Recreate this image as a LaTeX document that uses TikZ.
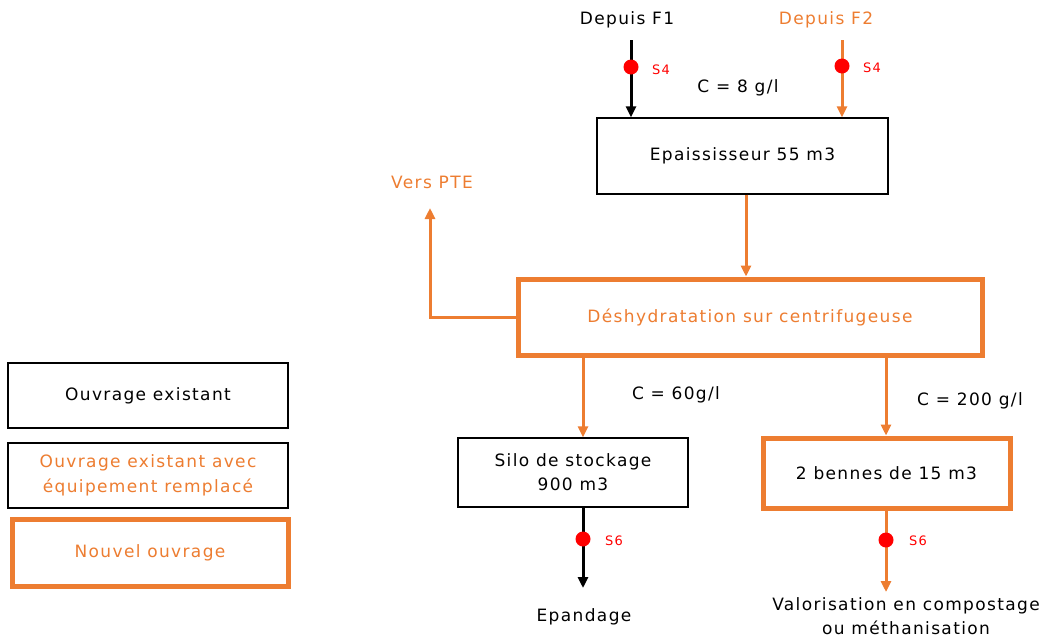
\documentclass[tikz,border=0pt]{standalone}
\usepackage{fontspec}
\setmainfont{DejaVu Sans}[LetterSpace=8]
\usetikzlibrary{arrows.meta}
\definecolor{org}{RGB}{237,125,49}
\definecolor{rd}{RGB}{255,0,0}
\tikzset{
  every node/.style={font=\fontsize{17}{25}\selectfont, inner sep=0pt},
  oldbox/.style={draw=black, line width=1.3pt, fill=white},
  newbox/.style={draw=org, line width=5pt, fill=white},
  barrow/.style={draw=black, line width=3pt, -{Triangle[width=10pt,length=11pt]}},
  oarrow/.style={draw=org, line width=3pt, -{Triangle[width=10pt,length=11pt]}},
  dot/.style={circle, fill=rd, minimum size=15pt},
  slab/.style={text=rd, font=\fontsize{13}{15}\selectfont},
  olab/.style={text=org},
}
\begin{document}
\begin{tikzpicture}[x=1pt,y=-1pt]
\useasboundingbox (0,0) rectangle (1053,638);

% legend
\node[oldbox, minimum width=280pt, minimum height=65pt] (leg1) at (148,395.5) {Ouvrage existant};
\node[oldbox, minimum width=280pt, minimum height=65pt, align=center, text=org] (leg2) at (148,475.5) {Ouvrage existant avec\\équipement remplacé};
\node[newbox, minimum width=276pt, minimum height=67pt, text=org] (leg3) at (150,552.5) {Nouvel ouvrage};

% main boxes
\node[oldbox, minimum width=291pt, minimum height=76pt] (epa) at (742.5,156) {Epaississeur 55 m3};
\node[newbox, minimum width=464pt, minimum height=76pt, text=org] (desh) at (750,317) {Déshydratation sur centrifugeuse};
\node[oldbox, minimum width=230pt, minimum height=69pt, align=center, font=\fontsize{17}{24}\selectfont] (silo) at (573,472.5) {Silo de stockage\\900 m3};
\node[newbox, minimum width=247pt, minimum height=70pt] (benne) at (886.5,473) {2 bennes de 15 m3};

% texts
\node (f1) at (627,20) {Depuis F1};
\node[olab] (f2) at (826,20) {Depuis F2};
\node (c8) at (738,88) {C = 8 g/l};
\node[olab] (pte) at (432,182) {Vers PTE};
\node (c60) at (676,395) {C = 60g/l};
\node (c200) at (970,401) {C = 200 g/l};
\node (epd) at (584,617) {Epandage};
\node[align=center, font=\fontsize{17}{24}\selectfont] (valo) at (906,616) {Valorisation en compostage\\ou méthanisation};

% coordinates
\coordinate (a1) at (631,40);
\coordinate (a2) at (842,40);
\coordinate (xm) at (746,0);
\coordinate (xs) at (583,0);
\coordinate (xb) at (886,0);
\coordinate (ptetip) at (430,208);
\coordinate (epend) at (583,588);
\coordinate (valend) at (886,592);

% connectors
\draw[barrow] (a1) -- (a1 |- epa.north);
\draw[oarrow] (a2) -- (a2 |- epa.north);
\draw[oarrow] (xm |- epa.south) -- (xm |- desh.north);
\draw[oarrow] (desh.west) -| (ptetip);
\draw[oarrow] (xs |- desh.south) -- (xs |- silo.north);
\draw[oarrow] (xb |- desh.south) -- (xb |- benne.north);
\draw[barrow] (xs |- silo.south) -- (epend);
\draw[oarrow] (xb |- benne.south) -- (valend);

% sampling points
\node[dot] (d1) at (631,67) {};
\node[dot] (d2) at (842,66) {};
\node[dot] (d3) at (583,539) {};
\node[dot] (d4) at (886,540) {};
\node[slab] (s1) at (661,70) {S4};
\node[slab] (s2) at (872,68) {S4};
\node[slab] (s3) at (614,541) {S6};
\node[slab] (s4) at (918,541) {S6};
\end{tikzpicture}
\end{document}
